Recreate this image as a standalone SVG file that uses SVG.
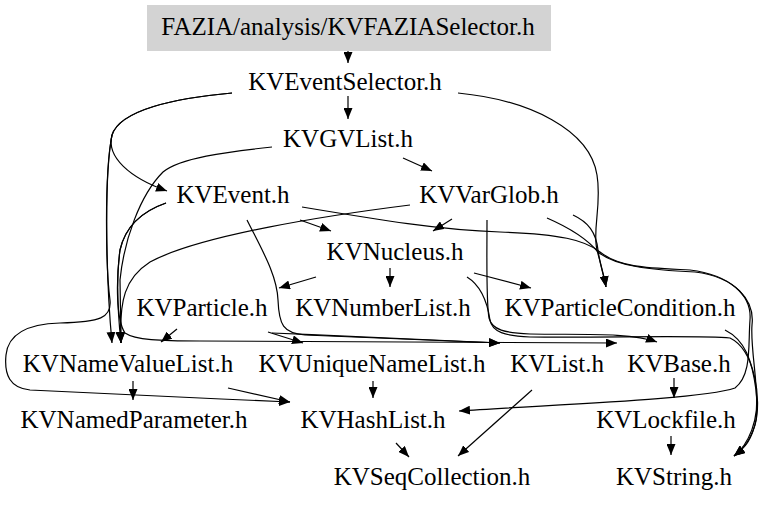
<svg xmlns="http://www.w3.org/2000/svg" width="768" height="507" viewBox="0 0 768 507">
<style>
text{font-family:"Liberation Serif","Times New Roman",serif;font-size:25px;fill:#000;text-anchor:middle}
.e{fill:none;stroke:#000;stroke-width:1.2;marker-end:url(#ah)}
</style>
<defs>
<marker id="ah" viewBox="0 0 11 9" refX="11" refY="4.5" markerWidth="11" markerHeight="9" markerUnits="userSpaceOnUse" orient="auto">
<path d="M0,0 L11,4.5 L0,9 z" fill="#000"/>
</marker>
</defs>
<rect width="768" height="507" fill="#fff"/>
<g id="edges">
<path class="e" d="M348,51 L348,63"/>
<path class="e" d="M348,96 L348,119"/>
<path class="e" d="M232,93 C175,98 120,110 112,135 C106,157 130,178 167,191"/>
<path class="e" d="M232,93 C175,98 120,110 112,135 C104,175 106,280 112,343"/>
<path class="e" d="M112,135 C104,175 106,270 110,300 C112,318 100,322 60,323 C25,324 8,335 6,355 C4,375 10,388 30,390 C100,394 200,398 290,402"/>
<path class="e" d="M458,93 C530,100 590,130 597,175 C602,205 592,230 597,250 C600,262 604,275 606,287"/>
<path class="e" d="M403,158 L432,171"/>
<path class="e" d="M272,147 C225,152 180,158 163,172 C140,195 124,240 120,280 L121,343"/>
<path class="e" d="M300,220 L331,231"/>
<path class="e" d="M166,203 C140,212 125,228 120,250 C116,280 118,315 121,343"/>
<path class="e" d="M166,203 C140,212 125,228 120,250 C116,280 116,320 125,333 C135,340 160,341 200,341 C350,342 500,343 617,343"/>
<path class="e" d="M247,220 C262,250 277,275 278,300 C279,325 283,333 305,335 C380,338 440,341 500,343"/>
<path class="e" d="M302,207 C380,220 440,230 500,232 C560,234 585,240 600,252 C620,268 650,268 690,270 C730,275 752,295 750,320 C748,345 752,375 735,388 C700,400 540,405 459,411"/>
<path class="e" d="M452,219 L433,231"/>
<path class="e" d="M410,205 C330,215 200,235 150,262 C125,278 119,300 121,343"/>
<path class="e" d="M487,220 C487,260 486,300 489,318 C492,330 505,333 530,334 C580,335 630,332 657,342"/>
<path class="e" d="M316,277 L279,288"/>
<path class="e" d="M390,268 L390,287"/>
<path class="e" d="M474,273 L531,288"/>
<path class="e" d="M467,277 C480,285 487,300 490,320 C492,332 505,336 530,337 C600,338 700,335 730,338 C755,350 762,400 755,425 C750,440 745,447 734,456"/>
<path class="e" d="M547,218 C570,228 588,240 598,252 C615,266 650,270 695,272 C735,277 755,300 752,325 C750,350 760,390 756,420 C752,440 745,448 734,456"/>
<path class="e" d="M573,215 C588,222 596,232 598,250 C600,265 604,276 606,287"/>
<path class="e" d="M268,332 L303,343"/>
<path class="e" d="M177,329 L161,342"/>
<path class="e" d="M272,333 C350,336 430,340 500,343"/>
<path class="e" d="M725,330 C745,340 752,360 756,390 C760,420 748,445 734,456"/>
<path class="e" d="M532,390 L458,456"/>
<path class="e" d="M396,443 L409,457"/>
<path class="e" d="M373,381 L373,398"/>
<path class="e" d="M133,381 L133,400"/>
<path class="e" d="M228,388 L290,402"/>
<path class="e" d="M674,378 L674,398"/>
<path class="e" d="M671,436 L671,455"/>
</g>
<g id="n_fazia"><rect x="147" y="5" width="404" height="46" fill="#d3d3d3"/><text x="348" y="35">FAZIA/analysis/KVFAZIASelector.h</text></g>
<g id="n_eventselector"><text x="345" y="90">KVEventSelector.h</text></g>
<g id="n_gvlist"><text x="348" y="147">KVGVList.h</text></g>
<g id="n_event"><text x="233" y="203">KVEvent.h</text></g>
<g id="n_varglob"><text x="489" y="203">KVVarGlob.h</text></g>
<g id="n_nucleus"><text x="395" y="260">KVNucleus.h</text></g>
<g id="n_particle"><text x="202" y="316">KVParticle.h</text></g>
<g id="n_numberlist"><text x="383" y="316">KVNumberList.h</text></g>
<g id="n_particlecondition"><text x="620" y="316">KVParticleCondition.h</text></g>
<g id="n_namevaluelist"><text x="128" y="372">KVNameValueList.h</text></g>
<g id="n_uniquenamelist"><text x="372" y="372">KVUniqueNameList.h</text></g>
<g id="n_list"><text x="557" y="372">KVList.h</text></g>
<g id="n_base"><text x="679" y="372">KVBase.h</text></g>
<g id="n_namedparameter"><text x="134" y="428">KVNamedParameter.h</text></g>
<g id="n_hashlist"><text x="373" y="428">KVHashList.h</text></g>
<g id="n_lockfile"><text x="666" y="428">KVLockfile.h</text></g>
<g id="n_seqcollection"><text x="432" y="485">KVSeqCollection.h</text></g>
<g id="n_string"><text x="674" y="485">KVString.h</text></g>
</svg>
